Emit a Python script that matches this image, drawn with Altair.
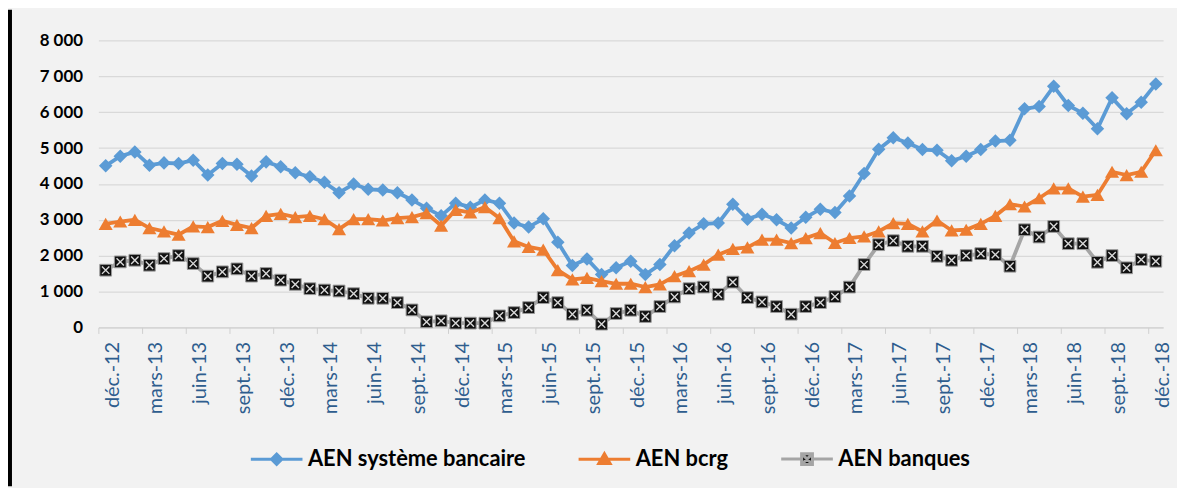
import altair as alt
import pandas as pd

month_abbr = ["janv.", "févr.", "mars", "avr.", "mai", "juin", "juil.", "août", "sept.", "oct.", "nov.", "déc."]
months = ["déc.-12"] + [f"{m}-{y}" for y in range(13, 19) for m in month_abbr]
tick_months = months[::3]
y_ticks = [0, 1000, 2000, 3000, 4000, 5000, 6000, 7000, 8000]

names = ["AEN système bancaire", "AEN bcrg", "AEN banques"]

systeme_bancaire = [4504, 4773, 4893, 4524, 4587, 4570, 4662, 4247, 4570, 4551, 4219, 4615,
                    4477, 4310, 4200, 4044, 3757, 3997, 3850, 3831, 3757, 3554, 3324, 3111,
                    3463, 3352, 3554, 3463, 2908, 2798, 3028, 2372, 1726, 1911, 1476, 1662,
                    1845, 1476, 1753, 2280, 2631, 2889, 2908, 3435, 3019, 3158, 3000, 2770,
                    3070, 3296, 3202, 3665, 4293, 4967, 5290, 5141, 4958, 4939, 4643, 4773,
                    4958, 5197, 5216, 6094, 6158, 6720, 6186, 5972, 5540, 6399, 5956, 6277,
                    6787]
bcrg = [2889, 2953, 3000, 2770, 2676, 2585, 2815, 2797, 2972, 2861, 2770, 3111,
        3167, 3074, 3111, 3019, 2741, 3019, 3019, 2981, 3046, 3074, 3185, 2840,
        3278, 3204, 3352, 3046, 2400, 2243, 2169, 1596, 1338, 1384, 1292, 1218,
        1218, 1125, 1200, 1430, 1570, 1753, 2030, 2188, 2234, 2446, 2446, 2350,
        2490, 2631, 2354, 2493, 2537, 2676, 2908, 2889, 2676, 2981, 2704, 2723,
        2889, 3111, 3435, 3370, 3601, 3878, 3878, 3646, 3693, 4339, 4247, 4339,
        4939]
banques = [1596, 1827, 1873, 1734, 1919, 2003, 1781, 1430, 1550, 1633, 1430, 1504,
           1319, 1200, 1080, 1043, 1016, 942, 813, 813, 692, 489, 157, 185,
           120, 120, 120, 323, 415, 554, 831, 692, 369, 480, 92, 388,
           480, 305, 582, 850, 1080, 1126, 923, 1264, 831, 711, 582, 369,
           582, 692, 858, 1125, 1753, 2307, 2418, 2261, 2261, 1984, 1873, 2003,
           2058, 2030, 1707, 2723, 2521, 2815, 2335, 2335, 1817, 2003, 1662, 1892,
           1845]

series_values = [systeme_bancaire, bcrg, banques]
rows = []
for name, vals in zip(names, series_values):
    for m, v in zip(months, vals):
        rows.append({"month": m, "series": name, "value": v})
df = pd.DataFrame(rows)

line_colors = ["#5b9bd5", "#ed7d31", "#a5a5a5"]
marker_fills = ["#5b9bd5", "#ed7d31", "#111111"]
marker_shapes = ["diamond", "triangle-up", "square"]
marker_sizes = [185, 200, 140]

FONT = "Lato"

x_enc = alt.X(
    "month:N", sort=months,
    scale=alt.Scale(type="band", domain=months, paddingInner=0, paddingOuter=0),
    axis=alt.Axis(values=tick_months, bandPosition=0, labelAngle=-90, labelFont=FONT,
                  labelFontSize=20, labelColor="#2e5d8e", tickColor="#d0d0d0", tickSize=6,
                  domainColor="#d0d0d0", grid=False, title=None, labelPadding=8, labelOffset=7,
                  labelOverlap=False),
)
y_enc = alt.Y(
    "value:Q", scale=alt.Scale(domain=[0, 8000], nice=False),
    axis=alt.Axis(values=y_ticks, labelExpr="replace(format(datum.value, ','), ',', ' ')",
                  labelFont=FONT, labelFontSize=17, labelFontWeight="bold", labelColor="#000000",
                  labelPadding=16, ticks=False, domain=False, grid=True, gridColor="#d9d9d9",
                  gridWidth=1.3, title=None),
)

base = alt.Chart(df).encode(x=x_enc, y=y_enc)

layers = []
for name, lc, mf, ms, sz in zip(names, line_colors, marker_fills, marker_shapes, marker_sizes):
    sub = base.transform_filter(alt.datum.series == name)
    layers.append(sub.mark_line(color=lc, strokeWidth=3.8))
    if name == "AEN banques":
        layers.append(sub.mark_point(shape=ms, filled=True, fill=mf, stroke="#9a9a9a",
                                     strokeWidth=1, size=sz, opacity=1))
        layers.append(sub.mark_point(shape="M-1,-1L1,1M1,-1L-1,1", filled=False,
                                     color="#d8d8d8", strokeWidth=1.4, size=55, opacity=1))
    else:
        layers.append(sub.mark_point(shape=ms, filled=True, fill=mf, size=sz, opacity=1))

legend_paths = [
    "M-1,0H1M0,-0.2L0.2,0L0,0.2L-0.2,0Z",
    "M-1,0H1M0,-0.22L0.22,0.16L-0.22,0.16Z",
    "M-1,0H-0.21M0.21,0H1M-0.21,-0.21H0.21V0.21H-0.21ZM-0.21,-0.21L0.21,0.21M0.21,-0.21L-0.21,0.21",
]
leg = alt.Legend(orient="none", legendX=152, legendY=394, direction="horizontal", title=None,
                 symbolSize=2704, symbolStrokeWidth=3, symbolOpacity=1, labelFont=FONT,
                 labelFontSize=22, labelFontWeight="bold", labelColor="#000000", labelOffset=4,
                 columnPadding=46, padding=0, labelLimit=0)
legend_layer = alt.Chart(df).transform_filter("datum.value < 0").mark_point(
    filled=True, opacity=1).encode(
    fill=alt.Fill("series:N", scale=alt.Scale(domain=names, range=marker_fills), legend=leg),
    stroke=alt.Stroke("series:N", scale=alt.Scale(domain=names, range=line_colors), legend=leg),
    shape=alt.Shape("series:N", scale=alt.Scale(domain=names, range=legend_paths), legend=leg),
)
layers.append(legend_layer)

frame = alt.Chart(pd.DataFrame({"a": [0]})).mark_rule(color="#000000", strokeWidth=4, clip=False).encode(
    x=alt.value(-89), y=alt.value(-31), y2=alt.value(449))
layers.append(frame)

chart = alt.layer(*layers).properties(
    width=1072, height=289,
    autosize=alt.AutoSizeParams(type="none"),
    padding={"left": 91, "top": 31, "right": 14, "bottom": 160},
    background="#f2f2f2",
).configure_view(fill="#ffffff", stroke=None)

chart.save("out.html", embed_options={"renderer": "svg", "actions": False})
